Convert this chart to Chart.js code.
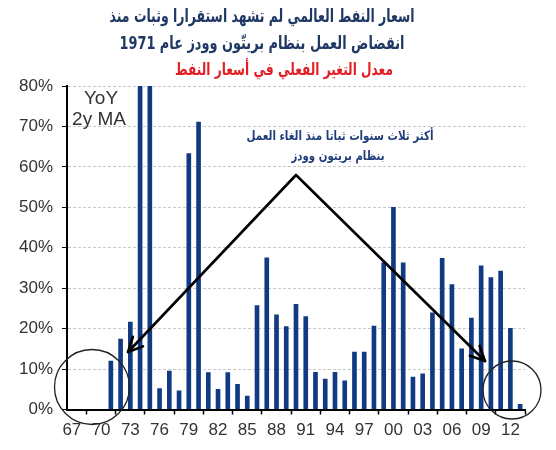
<!DOCTYPE html>
<html>
<head>
<meta charset="utf-8">
<script src="https://cdn.jsdelivr.net/npm/chart.js@4"></script>
<style>
  body { margin: 0; background: #fff; }
  #wrap { width: 556px; height: 450px; }
</style>
</head>
<body>
<div id="wrap"><canvas id="oilChart"></canvas></div>
<script>
// year categories 1967 - 2013
const years = ["67","68","69","70","71","72","73","74","75","76","77","78","79","80","81","82",
  "83","84","85","86","87","88","89","90","91","92","93","94","95","96","97","98","99",
  "00","01","02","03","04","05","06","07","08","09","10","11","12","13"];
const tickYears = ["67","70","73","76","79","82","85","88","91","94","97","00","03","06","09","12"];
// YoY change, 2y moving average (%) - 74/75 run off the top of the scale
const oilChange = [null, null, null, null, 12.0, 17.4, 21.6, 95, 95, 5.2, 9.5, 4.6, 63.3, 71.1,
  9.1, 5.0, 9.1, 6.2, 3.3, 25.7, 37.5, 23.4, 20.5, 26.0, 23.0, 9.2, 7.5, 9.2, 7.1, 14.2, 14.2,
  20.6, 36.3, 50.0, 36.3, 8.0, 8.8, 23.9, 37.4, 30.9, 15.0, 22.6, 35.5, 32.6, 34.2, 20.1, 1.3];

const titleLines = ["اسعار النفط العالمي لم تشهد استقرارا وثبات منذ", "انقضاض العمل بنظام بريتّون وودز عام 1971"];
const subTitle = "معدل التغير الفعلي في أسعار النفط";
const noteLines = ["أكثر ثلاث سنوات ثباتا منذ الغاء العمل", "بنظام بريتون وودز"];

// arabic text squeezed sideways to the width it has in the picture
function fitText(ctx, text, cx, cy, width, size, color) {
  ctx.font = "bold " + size + "px 'DejaVu Sans'";
  const w = ctx.measureText(text).width;
  ctx.save();
  ctx.translate(cx, cy);
  ctx.scale(width / w, 1);
  ctx.fillStyle = color;
  ctx.fillText(text, 0, 0);
  ctx.restore();
}

function arrowHead(ctx, fromX, fromY, tipX, tipY) {
  const ang = Math.atan2(tipY - fromY, tipX - fromX);
  const len = 16, spread = 0.45;
  ctx.beginPath();
  ctx.moveTo(tipX - len * Math.cos(ang - spread), tipY - len * Math.sin(ang - spread));
  ctx.lineTo(tipX, tipY);
  ctx.lineTo(tipX - len * Math.cos(ang + spread), tipY - len * Math.sin(ang + spread));
  ctx.stroke();
}

const decor = {
  id: "decor",
  afterDraw(chart) {
    const ctx = chart.ctx;
    ctx.save();
    ctx.direction = "rtl";
    ctx.textAlign = "center";
    ctx.textBaseline = "middle";
    fitText(ctx, titleLines[0], 262, 17, 305, 18, "#1f3864");
    fitText(ctx, titleLines[1], 262, 44, 285, 18, "#1f3864");
    fitText(ctx, subTitle, 284, 71, 218, 17, "#e31e24");
    fitText(ctx, noteLines[0], 340, 137, 187, 13, "#1f3d7a");
    fitText(ctx, noteLines[1], 338, 157, 93, 13, "#1f3d7a");

    ctx.direction = "ltr";
    ctx.font = "19px 'Liberation Sans'";
    ctx.fillStyle = "#333";
    ctx.fillText("YoY", 101, 99);
    ctx.fillText("2y MA", 99, 120);

    // arrows
    ctx.strokeStyle = "#000";
    ctx.lineWidth = 2.6;
    ctx.lineCap = "round";
    ctx.lineJoin = "round";
    ctx.beginPath();
    ctx.moveTo(128, 352);
    ctx.lineTo(296, 175);
    ctx.lineTo(485, 361);
    ctx.stroke();
    arrowHead(ctx, 296, 175, 128, 352);
    arrowHead(ctx, 296, 175, 485, 361);

    // circles
    ctx.lineWidth = 1.3;
    ctx.strokeStyle = "#222";
    ctx.beginPath();
    ctx.arc(92, 387, 37.5, 0, Math.PI * 2);
    ctx.stroke();
    ctx.beginPath();
    ctx.arc(512, 390, 29, 0, Math.PI * 2);
    ctx.stroke();
    ctx.restore();
  }
};

const ctx = document.getElementById("oilChart");
const oilChart = new Chart(ctx, {
  type: "bar",
  data: {
    labels: years,
    datasets: [
      {
        label: "YoY 2y MA",
        data: oilChange,
        backgroundColor: "#123a82",
        barThickness: 4,
      },
    ],
  },
  options: {
    responsive: true,
    maintainAspectRatio: false,
    animation: false,
    layout: { padding: { top: 86, right: 31, bottom: 0, left: 0 } },
    plugins: {
      legend: { display: false },
      tooltip: { enabled: false },
    },
    scales: {
      x: {
        afterFit: (scale) => { scale.height = 40.5; },
        grid: { drawOnChartArea: false, tickColor: "#000", tickLength: 5, tickWidth: 1.5 },
        border: { color: "#000", width: 2 },
        ticks: {
          autoSkip: false,
          maxRotation: 0,
          padding: 6,
          color: "#333",
          font: { family: "'Liberation Sans'", size: 17 },
          callback: function (value, index) {
            const lbl = years[index];
            return tickYears.includes(lbl) ? lbl : null;
          },
        },
      },
      y: {
        min: 0,
        max: 80,
        afterFit: (scale) => { scale.width = 67; },
        grid: { color: "#c8c8c8", lineWidth: 1, tickColor: "#000", tickLength: 5, tickBorderDash: [] },
        border: { color: "#000", width: 2, dash: [3, 2] },
        ticks: {
          stepSize: 10,
          padding: 9,
          color: "#333",
          font: { family: "'Liberation Sans'", size: 17 },
          callback: (v) => v + "%",
        },
      },
    },
  },
  plugins: [decor],
});
</script>
</body>
</html>
